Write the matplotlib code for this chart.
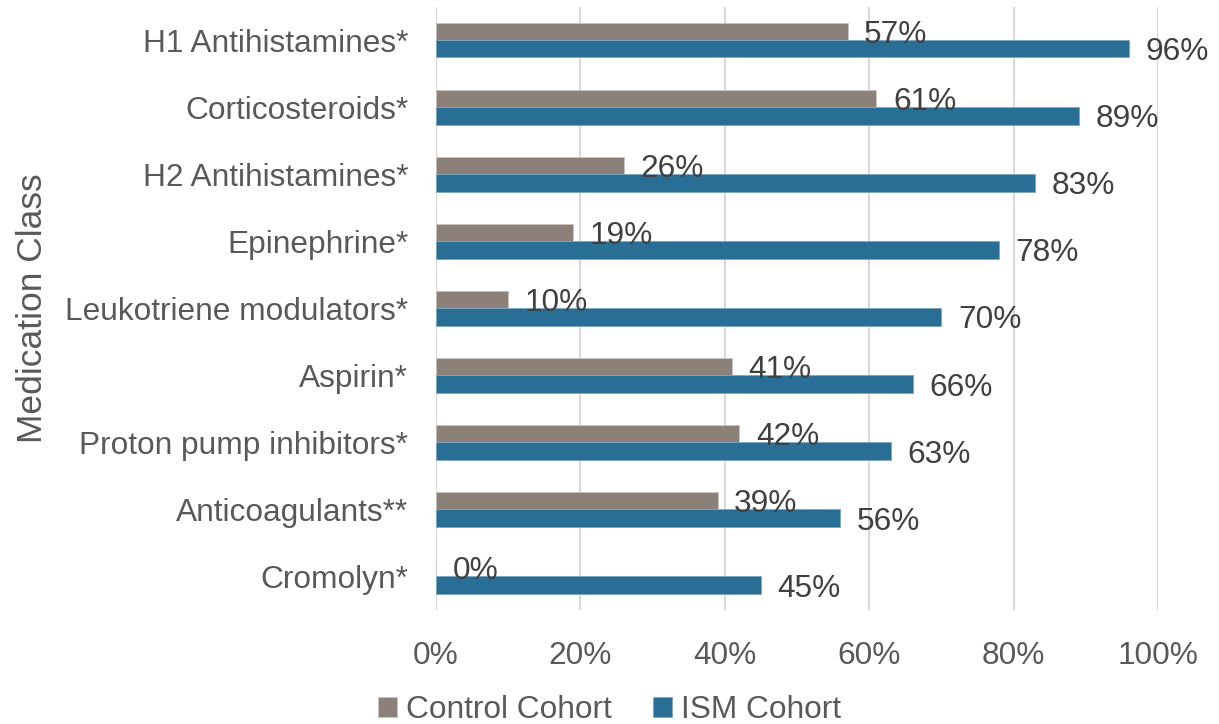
import matplotlib.pyplot as plt
import numpy as np

plt.rcParams['font.family'] = ['Liberation Sans', 'DejaVu Sans']

categories = ['H1 Antihistamines*', 'Corticosteroids*', 'H2 Antihistamines*',
              'Epinephrine*', 'Leukotriene modulators*', 'Aspirin*',
              'Proton pump inhibitors*', 'Anticoagulants**', 'Cromolyn*']
control = [57, 61, 26, 19, 10, 41, 42, 39, 0]
ism = [96, 89, 83, 78, 70, 66, 63, 56, 45]
xticks = [0, 20, 40, 60, 80, 100]

CONTROL_COLOR = '#8b8178'
ISM_COLOR = '#296e95'
TEXT = '#595959'
LABEL = '#404040'
FS = 22.8


def main():
    fig = plt.figure(figsize=(12.19, 7.24), dpi=100)
    ax = fig.add_axes([436 / 1219, 1 - 610 / 724, (1158 - 436) / 1219, (610 - 6.5) / 724])

    y = np.arange(len(categories))
    h = 0.26
    bars_c = ax.barh(y - h / 2, control, height=h, color=CONTROL_COLOR,
                     edgecolor='#c9c4bf', linewidth=0.6, label='Control Cohort', zorder=3)
    bars_i = ax.barh(y + h / 2, ism, height=h, color=ISM_COLOR,
                     edgecolor='#7fa6c0', linewidth=0.6, label='ISM Cohort', zorder=3)

    for bars, vals in ((bars_c, control), (bars_i, ism)):
        for b, v in zip(bars, vals):
            ax.annotate(f'{v}%', (v, b.get_y() + b.get_height() / 2),
                        xytext=(12, 0), textcoords='offset points',
                        va='center_baseline', ha='left', fontsize=FS, color=LABEL, zorder=4)

    ax.set_xlim(0, 100)
    ax.set_ylim(len(categories) - 0.5, -0.5)
    ax.set_xticks(xticks)
    ax.set_xticklabels([f'{t}%' for t in xticks])
    ax.set_yticks(y)
    ax.set_yticklabels(categories)
    ax.tick_params(axis='x', length=0, pad=22, labelsize=FS, labelcolor=TEXT)
    ax.tick_params(axis='y', length=0, pad=20, labelsize=FS, labelcolor=TEXT)
    ax.grid(axis='x', color='#d9d9d9', linewidth=1.5, zorder=0)
    for s in ax.spines.values():
        s.set_visible(False)

    fig.text(33 / 1219, 1 - 308 / 724, 'Medication Class', rotation=90,
             ha='center', va='center', fontsize=25.5, color=TEXT)

    fig.legend(handles=[bars_c, bars_i], labels=['Control Cohort', 'ISM Cohort'],
               loc='center', bbox_to_anchor=(0.5, 1 - 710 / 724), ncol=2, frameon=False,
               fontsize=FS, labelcolor=TEXT, handlelength=0.6, handleheight=0.6,
               handletextpad=0.3, columnspacing=1.3)

    fig.savefig('out.png', dpi=100)


if __name__ == '__main__':
    main()
